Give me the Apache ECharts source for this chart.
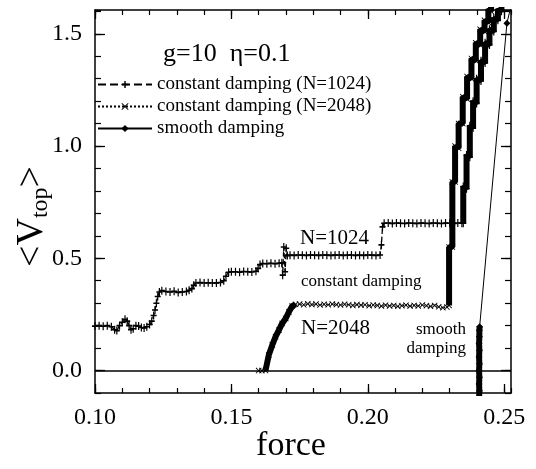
<!DOCTYPE html>
<html>
<head>
<meta charset="utf-8">
<script src="https://cdn.jsdelivr.net/npm/echarts@6/dist/echarts.min.js"></script>
<style>
html, body { margin: 0; padding: 0; background: #fff; }
#chart_box { width: 536px; height: 469px; }
</style>
</head>
<body>
<div id="chart_box"></div>
<script>
// constant damping, N=1024 : slow part
var n1024 = [
  [0.1000,0.198],[0.1015,0.200],[0.1030,0.197],[0.1045,0.200],[0.1060,0.195],[0.1072,0.182],
  [0.1080,0.178],[0.1090,0.200],[0.1100,0.215],[0.1110,0.228],[0.1118,0.220],[0.1125,0.200],
  [0.1132,0.182],[0.1140,0.186],[0.1150,0.200],[0.1160,0.198],[0.1170,0.192],[0.1180,0.190],
  [0.1190,0.195],[0.1200,0.205],[0.1208,0.220],[0.1215,0.245],[0.1220,0.270],[0.1225,0.300],
  [0.1230,0.330],[0.1236,0.350],[0.1245,0.356],[0.1260,0.352],[0.1275,0.350],[0.1290,0.353],
  [0.1305,0.348],[0.1320,0.350],[0.1335,0.352],[0.1345,0.358],[0.1355,0.365],[0.1362,0.380],
  [0.1370,0.390],[0.1385,0.392],[0.1400,0.390],[0.1415,0.391],[0.1430,0.390],[0.1445,0.390],
  [0.1460,0.392],[0.1472,0.400],[0.1480,0.420],[0.1490,0.438],[0.1500,0.440],[0.1515,0.440],
  [0.1530,0.438],[0.1545,0.441],[0.1560,0.440],[0.1575,0.439],[0.1590,0.442],[0.1598,0.455],
  [0.1605,0.472],[0.1615,0.477],[0.1630,0.476],[0.1645,0.478],[0.1660,0.476],[0.1675,0.478],
  [0.1685,0.480],[0.1688,0.425],[0.1692,0.550],[0.1697,0.440],[0.1701,0.545],[0.1705,0.512],
  [0.1715,0.514],[0.1730,0.513],[0.1745,0.515],[0.1760,0.514],[0.1775,0.513],[0.1790,0.515],
  [0.1805,0.514],[0.1820,0.513],[0.1835,0.515],[0.1850,0.514],[0.1865,0.513],[0.1880,0.514],
  [0.1895,0.515],[0.1910,0.513],[0.1925,0.514],[0.1940,0.515],[0.1955,0.513],[0.1970,0.514],
  [0.1985,0.513],[0.2000,0.515],[0.2015,0.514],[0.2030,0.513],[0.2045,0.515],[0.2050,0.560],
  [0.2054,0.640],[0.2060,0.656],[0.2075,0.657],[0.2090,0.655],[0.2105,0.657],[0.2120,0.656],
  [0.2135,0.655],[0.2150,0.657],[0.2165,0.656],[0.2180,0.655],[0.2195,0.657],[0.2210,0.656],
  [0.2225,0.655],[0.2240,0.657],[0.2255,0.656],[0.2270,0.655],[0.2285,0.657],[0.2300,0.656],
  [0.2315,0.655],[0.2330,0.657],[0.2345,0.656]
];
// constant damping, N=1024 : steep staircase
var n1024Rise = [
  [0.2350,0.656],[0.2350,0.82],[0.2362,0.81],[0.2362,0.96],[0.2374,0.95],[0.2374,1.09],
  [0.2386,1.08],[0.2386,1.20],[0.2399,1.19],[0.2399,1.30],[0.2415,1.29],[0.2415,1.38],
  [0.2430,1.37],[0.2430,1.46],[0.2446,1.45],[0.2446,1.52],[0.2462,1.51],[0.2462,1.57],
  [0.2477,1.56],[0.2477,1.61],[0.2490,1.60],[0.2490,1.66]
];
// constant damping, N=2048 : onset ramp
var n2048Ramp = [
  [0.1600,0.000],[0.1612,0.000],[0.1625,0.000],[0.1637,0.069],[0.1650,0.114],[0.1662,0.151],
  [0.1674,0.180],[0.1686,0.210],[0.1699,0.232],[0.1711,0.262],[0.1723,0.287],[0.1735,0.295]
];
// constant damping, N=2048 : plateau
var n2048 = [
  [0.1750,0.296],[0.1765,0.293],[0.1780,0.297],[0.1795,0.294],[0.1810,0.296],[0.1825,0.292],
  [0.1840,0.295],[0.1855,0.293],[0.1870,0.296],[0.1885,0.294],[0.1900,0.292],[0.1915,0.295],
  [0.1930,0.293],[0.1945,0.290],[0.1960,0.294],[0.1975,0.291],[0.1990,0.293],[0.2005,0.289],
  [0.2020,0.292],[0.2035,0.290],[0.2050,0.287],[0.2065,0.291],[0.2080,0.288],[0.2095,0.290],
  [0.2110,0.286],[0.2125,0.289],[0.2140,0.291],[0.2155,0.287],[0.2170,0.290],[0.2185,0.288],
  [0.2200,0.292],[0.2215,0.289],[0.2230,0.286],[0.2245,0.290],[0.2260,0.284],[0.2275,0.280],
  [0.2290,0.283]
];
// constant damping, N=2048 : steep staircase
var n2048Rise = [
  [0.2298,0.29],[0.2298,0.55],[0.2310,0.55],[0.2310,0.84],[0.2320,0.84],[0.2320,1.00],
  [0.2333,0.99],[0.2333,1.10],[0.2348,1.10],[0.2348,1.22],[0.2364,1.21],[0.2364,1.31],
  [0.2380,1.30],[0.2380,1.39],[0.2396,1.38],[0.2396,1.46],[0.2412,1.45],[0.2412,1.52],
  [0.2428,1.51],[0.2428,1.56],[0.2442,1.55],[0.2442,1.61],[0.2452,1.60],[0.2452,1.66]
];
// smooth damping : jump at the threshold, then the tail
var smoothBar = [
  [0.2408,-0.12],[0.2409,-0.09],[0.2408,-0.06],[0.2409,-0.03],[0.2408,0.00],[0.2409,0.03],
  [0.2408,0.06],[0.2409,0.09],[0.2408,0.12],[0.2409,0.15],[0.2409,0.18],[0.2410,0.195]
];
var smoothTail = [[0.2510,1.547],[0.2530,1.650]];

var xTicks = [0.10, 0.15, 0.20, 0.25];
var yTicks = [0.0, 0.5, 1.0, 1.5];
var names = ['constant damping (N=1024)', 'constant damping (N=2048)', 'smooth damping'];

var FONT = '"Liberation Serif", "Times New Roman", serif';
var plusPath = 'path://M-1,-5 L1,-5 L1,-1 L5,-1 L5,1 L1,1 L1,5 L-1,5 L-1,1 L-5,1 L-5,-1 L-1,-1 Z';
var crossPath = 'path://M-5,-4 L-4,-5 L0,-1 L4,-5 L5,-4 L1,0 L5,4 L4,5 L0,1 L-4,5 L-5,4 L-1,0 Z';

function xAxisOf(pos, major, main) {
  return {
    type: 'value', position: pos, min: 0.10, max: 0.2525, interval: 0.01,
    axisLine: { show: !major, onZero: false, lineStyle: { color: '#000', width: 1.5 } },
    axisTick: major
      ? { inside: true, length: 9, customValues: xTicks, lineStyle: { color: '#000', width: 1.3 } }
      : { inside: true, length: 5, lineStyle: { color: '#000', width: 1.2 } },
    axisLabel: main
      ? { customValues: xTicks, formatter: function (v) { return v.toFixed(2); },
          color: '#000', fontFamily: FONT, fontSize: 24, margin: 13 }
      : { show: false },
    splitLine: { show: false },
    name: main ? 'force' : '',
    nameLocation: 'middle', nameGap: 36, nameMoveOverlap: false,
    nameTextStyle: { color: '#000', fontFamily: FONT, fontSize: 34, padding: [0, 24, 0, 0] }
  };
}
function yAxisOf(pos, major, main) {
  return {
    type: 'value', position: pos, min: -0.1, max: 1.606, interval: 0.1,
    axisLine: { show: !major, onZero: false, lineStyle: { color: '#000', width: 1.5 } },
    axisTick: major
      ? { inside: true, length: 10, customValues: yTicks, lineStyle: { color: '#000', width: 1.3 } }
      : { inside: true, length: 6, lineStyle: { color: '#000', width: 1.2 } },
    axisLabel: main
      ? { customValues: yTicks, formatter: function (v) { return v.toFixed(1); },
          color: '#000', fontFamily: FONT, fontSize: 24, margin: 13 }
      : { show: false },
    splitLine: { show: false },
    name: main ? '{a|<V}{b|top}{a|>}' : '',
    nameLocation: 'middle', nameGap: 42, nameMoveOverlap: false,
    nameTextStyle: {
      color: '#000', fontFamily: FONT, fontSize: 38, padding: [0, 30, 0, 0],
      rich: {
        a: { fontFamily: FONT, fontSize: 38, color: '#000', lineHeight: 40, verticalAlign: 'top' },
        b: { fontFamily: FONT, fontSize: 24, color: '#000', lineHeight: 22, verticalAlign: 'bottom' }
      }
    }
  };
}

var myEcharts = echarts.init(document.getElementById('chart_box'), null, { renderer: 'canvas' });
var option = {
  animation: false,
  backgroundColor: '#fff',
  grid: { left: 95, right: 25, top: 10, bottom: 76, containLabel: false, outerBoundsMode: 'none' },
  xAxis: [xAxisOf('bottom', false, true), xAxisOf('bottom', true, false),
          xAxisOf('top', false, false), xAxisOf('top', true, false)],
  yAxis: [yAxisOf('left', false, true), yAxisOf('left', true, false),
          yAxisOf('right', false, false), yAxisOf('right', true, false)],
  legend: {
    data: names, orient: 'vertical', left: 97, top: 75, padding: 0,
    itemWidth: 54, itemHeight: 9, itemGap: 3,
    textStyle: { color: '#000', fontFamily: FONT, fontSize: 19 }
  },
  graphic: [
    { type: 'text', left: 163, top: 41, style: { text: 'g=10  \u03b7=0.1', font: '26px ' + FONT, fill: '#000' } },
    { type: 'text', left: 300, top: 228, style: { text: 'N=1024', font: '21px ' + FONT, fill: '#000' } },
    { type: 'text', left: 301, top: 273, style: { text: 'constant damping', font: '17px ' + FONT, fill: '#000' } },
    { type: 'text', left: 301, top: 318, style: { text: 'N=2048', font: '21px ' + FONT, fill: '#000' } },
    { type: 'text', right: 70, top: 321, style: { text: 'smooth', font: '17px ' + FONT, fill: '#000' } },
    { type: 'text', right: 70, top: 340, style: { text: 'damping', font: '17px ' + FONT, fill: '#000' } }
  ],
  series: [
    {
      name: names[0], type: 'line', data: n1024.concat(n1024Rise),
      symbol: plusPath, symbolSize: [6, 8], showAllSymbol: true,
      lineStyle: { color: '#000', width: 1.3, type: 'dashed' }, itemStyle: { color: '#000' }
    },
    {
      name: names[1], type: 'line', data: n2048Ramp.concat(n2048, n2048Rise),
      symbol: crossPath, symbolSize: 6, showAllSymbol: true,
      lineStyle: { color: '#000', width: 1.3, type: 'dotted' }, itemStyle: { color: '#000' }
    },
    {
      name: names[2], type: 'line', data: smoothBar.concat(smoothTail),
      symbol: 'diamond', symbolSize: 7, showAllSymbol: true,
      lineStyle: { color: '#000', width: 1, type: 'solid' }, itemStyle: { color: '#000' },
      markLine: {
        silent: true, symbol: ['none', 'none'], label: { show: false },
        lineStyle: { color: '#000', width: 1.5, type: 'solid' },
        data: [{ yAxis: 0 }]
      }
    },
    { name: 'n1024 steep', type: 'line', data: n1024Rise, symbol: 'none', lineStyle: { color: '#000', width: 6 } },
    { name: 'n2048 ramp', type: 'line', data: n2048Ramp.slice(2), symbol: 'none', lineStyle: { color: '#000', width: 6 } },
    { name: 'n2048 steep', type: 'line', data: n2048Rise, symbol: 'none', lineStyle: { color: '#000', width: 6 } },
    { name: 'smooth jump', type: 'line', data: smoothBar, symbol: 'none', lineStyle: { color: '#000', width: 6 } }
  ]
};
myEcharts.setOption(option);
</script>
</body>
</html>
